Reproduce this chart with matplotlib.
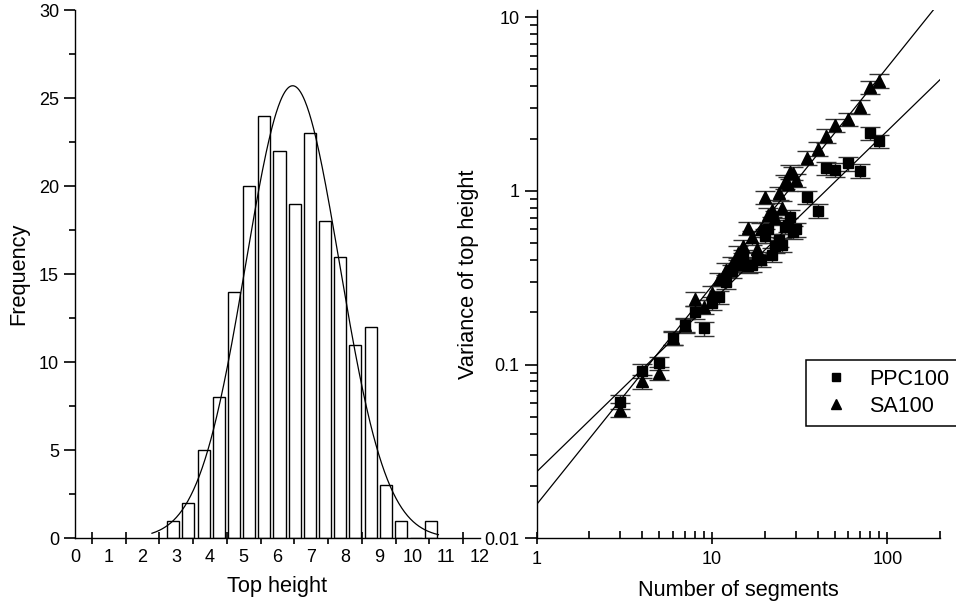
import matplotlib
matplotlib.use("Agg")
import matplotlib.pyplot as plt
from matplotlib.ticker import FixedLocator, LogLocator, NullFormatter, FuncFormatter
import numpy as np

plt.rcParams["font.family"] = ["Liberation Sans", "DejaVu Sans"]

# histogram of top heights (Origin-style bins, width 0.45)
bin_start = 2.91
bin_width = 0.45
counts = [1, 2, 5, 8, 14, 20, 24, 22, 19, 23, 18, 16, 11, 12, 3, 1, 0, 1]
# gaussian fit to the histogram
gauss_center = 6.45
gauss_sigma = 1.39
gauss_peak = 25.7
fit_range = (2.28, 10.77)

# variance of top height vs number of segments
segments = [3, 4, 5, 6, 7, 8, 9, 10, 11, 12, 13, 14, 15, 16, 17, 18, 19, 20,
            21, 22, 23, 24, 25, 26, 27, 28, 29, 30, 35, 40, 45, 50, 60, 70, 80, 90]
var_ppc = [0.061, 0.092, 0.102, 0.143, 0.168, 0.200, 0.162, 0.226, 0.245, 0.300,
           0.345, 0.375, 0.420, 0.370, 0.375, 0.41, 0.40, 0.55, 0.60, 0.43,
           0.48, 0.52, 0.49, 0.62, 0.64, 0.71, 0.58, 0.60, 0.92, 0.77,
           1.35, 1.32, 1.44, 1.31, 2.15, 1.94]
err_ppc = [0.0055, 0.0083, 0.0092, 0.013, 0.015, 0.018, 0.015, 0.020, 0.022, 0.027,
           0.031, 0.034, 0.038, 0.033, 0.034, 0.037, 0.036, 0.050, 0.054, 0.039,
           0.043, 0.047, 0.044, 0.056, 0.058, 0.064, 0.052, 0.054, 0.083, 0.069,
           0.12, 0.12, 0.13, 0.12, 0.19, 0.17]
var_sa = [0.055, 0.080, 0.089, 0.142, 0.170, 0.240, 0.215, 0.26, 0.31, 0.35,
          0.38, 0.44, 0.48, 0.61, 0.54, 0.46, 0.60, 0.92, 0.73, 0.78,
          0.70, 0.97, 0.80, 1.13, 1.10, 1.29, 1.27, 1.15, 1.55, 1.74,
          2.07, 2.39, 2.59, 3.05, 3.94, 4.29]
err_sa = [0.005, 0.0072, 0.008, 0.013, 0.015, 0.022, 0.019, 0.023, 0.028, 0.032,
          0.034, 0.040, 0.043, 0.055, 0.049, 0.041, 0.054, 0.083, 0.066, 0.070,
          0.063, 0.087, 0.072, 0.10, 0.10, 0.12, 0.11, 0.10, 0.14, 0.16,
          0.19, 0.22, 0.23, 0.27, 0.35, 0.39]
# power-law fits: log10(var) = a + b * log10(n)
fit_ppc = (-1.617, 0.981)
fit_sa = (-1.805, 1.258)

TICK_FS = 13
LABEL_FS = 15.7

fig = plt.figure(figsize=(9.56, 6.07), dpi=100)
ax1 = fig.add_axes([0.0785, 0.1132, 0.4235, 0.8703])
ax2 = fig.add_axes([0.5614, 0.1132, 0.4219, 0.8703])

for ax in (ax1, ax2):
    for side in ("top", "right"):
        ax.spines[side].set_visible(False)
    for side in ("left", "bottom"):
        ax.spines[side].set_linewidth(1.0)

# --- left: histogram + normal curve ---------------------------------
centers = bin_start + bin_width * np.arange(len(counts))
ax1.bar(centers, counts, width=0.356, color="white", edgecolor="black",
        linewidth=1.0, zorder=2)

xs = np.linspace(*fit_range, 400)
ax1.plot(xs, gauss_peak * np.exp(-0.5 * ((xs - gauss_center) / gauss_sigma) ** 2),
         color="black", linewidth=0.9, zorder=3)

ax1.set_xlim(0, 12)
ax1.set_ylim(0, 30)
ax1.set_xticks(range(0, 13))
ax1.xaxis.set_minor_locator(FixedLocator(np.arange(0.5, 12, 1.0)))
ax1.tick_params(axis="x", which="major", length=0, labelsize=TICK_FS, pad=8)
ax1.tick_params(axis="x", which="minor", direction="inout", length=8, width=1.2)
ax1.set_yticks(range(0, 31, 5))
ax1.yaxis.set_minor_locator(FixedLocator(np.arange(2.5, 30, 5)))
ax1.tick_params(axis="y", which="major", direction="out", length=8, width=1.2,
                labelsize=TICK_FS)
ax1.tick_params(axis="y", which="minor", direction="out", length=4, width=1.2)
ax1.set_xlabel("Top height", fontsize=LABEL_FS, labelpad=7)
ax1.set_ylabel("Frequency", fontsize=LABEL_FS, labelpad=7)

# --- right: variance vs segments, log-log -----------------------------
ekw = dict(fmt="none", ecolor="0.2", elinewidth=1.0, capsize=7.5, capthick=1.0)
ax2.errorbar(segments, var_ppc, yerr=err_ppc, zorder=2, **ekw)
ax2.errorbar(segments, var_sa, yerr=err_sa, zorder=2, **ekw)
ax2.plot(segments, var_ppc, ls="none", marker="s", ms=7, color="black",
         label="PPC100", zorder=3)
ax2.plot(segments, var_sa, ls="none", marker="^", ms=9, color="black",
         label="SA100", zorder=3)

nx = np.logspace(0, np.log10(200), 50)
for a, b in (fit_ppc, fit_sa):
    ax2.plot(nx, 10 ** (a + b * np.log10(nx)), color="black", linewidth=0.9,
             zorder=4)

ax2.set_xscale("log")
ax2.set_yscale("log")
ax2.set_xlim(1, 200)
ax2.set_ylim(0.01, 11)
fmt = FuncFormatter(lambda v, _: f"{v:g}")
ax2.xaxis.set_major_formatter(fmt)
ax2.yaxis.set_major_formatter(fmt)
ax2.xaxis.set_minor_locator(LogLocator(base=10, subs=np.arange(2, 10)))
ax2.xaxis.set_minor_formatter(NullFormatter())
ax2.yaxis.set_minor_locator(LogLocator(base=10, subs=np.arange(2, 10)))
ax2.yaxis.set_minor_formatter(NullFormatter())
ax2.tick_params(axis="x", which="major", direction="inout", length=8, width=1.2,
                labelsize=TICK_FS, pad=5)
ax2.tick_params(axis="x", which="minor", direction="in", length=5, width=1.2)
ax2.tick_params(axis="y", which="major", direction="out", length=9, width=1.2,
                labelsize=TICK_FS)
ax2.tick_params(axis="y", which="minor", direction="out", length=5, width=1.2)
ax2.set_xlabel("Number of segments", fontsize=LABEL_FS, labelpad=9)
ax2.set_ylabel("Variance of top height", fontsize=LABEL_FS, labelpad=4)

# legend box runs off the right edge of the figure
leg = ax2.legend(loc="upper left", bbox_to_anchor=(0.843, 0.297, 0.18, 0.11),
                 bbox_transform=fig.transFigure, mode="expand", fontsize=15.5,
                 frameon=True, fancybox=False, edgecolor="black", borderpad=0.4,
                 handlelength=2.0, handletextpad=0.55, labelspacing=0.3,
                 borderaxespad=0)
leg.get_frame().set_linewidth(1.1)
leg.get_frame().set_alpha(None)
for h in leg.legend_handles:
    h.set_markersize(6 if h.get_marker() == "s" else 7.5)

fig.savefig("out.png", dpi=100)
